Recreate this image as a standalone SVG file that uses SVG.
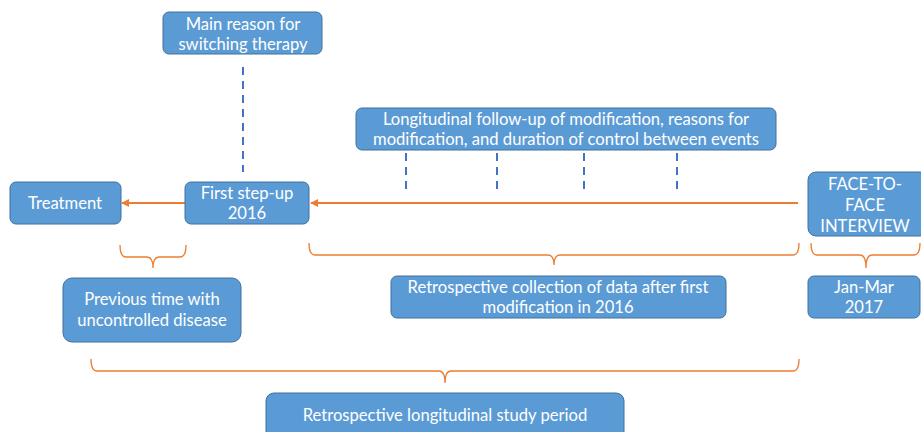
<svg xmlns="http://www.w3.org/2000/svg" width="921" height="432" viewBox="0 0 921 432">
<defs>
<style>
.box{fill:#5B9BD5;stroke:#41719C;stroke-width:1}
.t{fill:#fff;font-family:Lato,"Open Sans","Liberation Sans",sans-serif;font-size:16.6px;text-anchor:middle}
.arrow{stroke:#ED7D31;stroke-width:2;fill:none}
.br{stroke:#ED7D31;stroke-width:1.3;fill:none}
.dash{stroke:#4472C4;stroke-width:2;stroke-dasharray:8,6;fill:none}
</style>
<marker id="ah" viewBox="0 0 10 10" refX="9" refY="5" markerWidth="4" markerHeight="4" orient="auto"><path d="M0,0 L10,5 L0,10 z" fill="#ED7D31"/></marker>
</defs>
<g id="connectors">
<line class="dash" x1="243" y1="67" x2="243" y2="172"/>
<line class="dash" x1="406" y1="153" x2="406" y2="192"/>
<line class="dash" x1="497" y1="153" x2="497" y2="192"/>
<line class="dash" x1="584" y1="153" x2="584" y2="192"/>
<line class="dash" x1="677" y1="153" x2="677" y2="192"/>
<line class="arrow" x1="185" y1="203" x2="122" y2="203" marker-end="url(#ah)"/>
<line class="arrow" x1="798" y1="203" x2="311" y2="203" marker-end="url(#ah)"/>
<path class="br" d="M120,245 Q120,257 126,257 L147,257 Q153,257 153,268 Q153,257 159,257 L180,257 Q186,257 186,245"/>
<path class="br" d="M309,243 Q309,255 315,255 L548,255 Q554,255 554,265 Q554,255 560,255 L793,255 Q799,255 799,243"/>
<path class="br" d="M811,243 Q811,255 817,255 L860,255 Q866,255 866,268 Q866,255 872,255 L914,255 Q920,255 920,243"/>
<path class="br" d="M91,359 Q91,371 97,371 L439,371 Q445,371 445,383 Q445,371 451,371 L793,371 Q799,371 799,359"/>
</g>
<g id="main-reason"><rect class="box" x="163" y="12" width="159" height="42" rx="6"/><text class="t" x="243" y="30">Main reason for</text><text class="t" x="243" y="50">switching therapy</text></g>
<g id="treatment"><rect class="box" x="10" y="182" width="111" height="42" rx="6"/><text class="t" x="65" y="209">Treatment</text></g>
<g id="first-step-up"><rect class="box" x="185" y="182" width="124" height="42" rx="6"/><text class="t" x="247" y="199">First step-up</text><text class="t" x="247" y="219">2016</text></g>
<g id="longitudinal"><rect class="box" x="356" y="108" width="420" height="42" rx="6"/><text class="t" x="566" y="125">Longitudinal follow-up of modification,  reasons for</text><text class="t" x="566" y="145">modification, and duration of control between events</text></g>
<g id="face-to-face"><rect class="box" x="808" y="172" width="120" height="64" rx="8"/><text class="t" x="865" y="190">FACE-TO-</text><text class="t" x="865" y="211">FACE</text><text class="t" x="865" y="232">INTERVIEW</text></g>
<g id="previous-time"><rect class="box" x="63" y="278" width="178" height="64" rx="9"/><text class="t" x="152" y="305">Previous time with</text><text class="t" x="152" y="326">uncontrolled disease</text></g>
<g id="retro-collection"><rect class="box" x="391" y="276" width="335" height="42" rx="6"/><text class="t" x="558" y="293">Retrospective collection of data after first</text><text class="t" x="558" y="313">modification in 2016</text></g>
<g id="jan-mar"><rect class="box" x="808" y="276" width="112" height="42" rx="6"/><text class="t" x="864" y="293">Jan-Mar</text><text class="t" x="864" y="313">2017</text></g>
<g id="retro-period"><rect class="box" x="266" y="393" width="358" height="50" rx="8"/><text class="t" x="445" y="421">Retrospective longitudinal study period</text></g>
</svg>
